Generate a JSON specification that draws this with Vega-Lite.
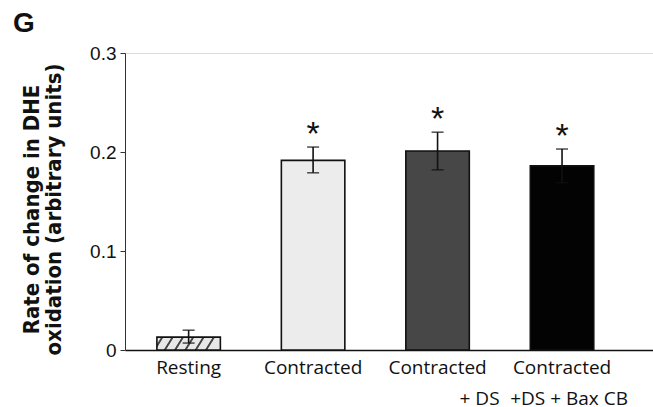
{
  "$schema": "https://vega.github.io/schema/vega-lite/v6.json",
  "autosize": {"type": "none"},
  "padding": {"left": 125, "top": 53, "right": 0, "bottom": 57},
  "width": 528,
  "height": 297,
  "background": "white",
  "title": {"text": "G", "anchor": "start", "frame": "group", "orient": "top", "fontSize": 28, "fontWeight": "bold", "font": "Liberation Sans", "color": "#111", "dx": -112, "dy": -6, "offset": 0},
  "data": {"values": [
    {"group": "Resting", "mean": 0.013, "lo": 0.007, "hi": 0.020, "sig": ""},
    {"group": "Contracted", "mean": 0.1915, "lo": 0.179, "hi": 0.205, "sig": "*"},
    {"group": "Contracted|\u2800\u2800\u2800\u2800\u2800\u2800+ DS", "mean": 0.201, "lo": 0.182, "hi": 0.220, "sig": "*"},
    {"group": "Contracted|\u2800+DS + Bax CB", "mean": 0.186, "lo": 0.169, "hi": 0.203, "sig": "*"}
  ]},
  "encoding": {
    "x": {"field": "group", "type": "nominal", "sort": null,
      "scale": {"paddingInner": 0.49, "paddingOuter": 0.366, "align": 0.35},
      "axis": {"title": null, "labelAngle": 0, "ticks": false, "domainColor": "#111", "domainWidth": 1.6,
        "labelExpr": "split(datum.label, '|')", "labelFont": "Open Sans", "labelFontSize": 19, "labelColor": "#111",
        "labelPadding": 8, "labelLineHeight": 31, "labelBaseline": "top"}}
  },
  "layer": [
    {"mark": {"type": "bar", "stroke": "#111", "strokeWidth": 1.6},
     "encoding": {
       "y": {"field": "mean", "type": "quantitative", "scale": {"domain": [0, 0.3], "nice": false},
         "axis": {"values": [0, 0.1, 0.2, 0.3], "grid": false, "labelExpr": "datum.value == 0 ? '0' : format(datum.value, '.1f')",
           "labelFont": "Liberation Sans", "labelFontSize": 19, "labelColor": "#111", "tickColor": "#333", "domainColor": "#333",
           "tickSize": 5, "labelPadding": 4,
           "title": ["Rate of change in DHE", "oxidation (arbitrary units)"], "titleFont": "'DejaVu Sans Condensed', 'Liberation Sans'", "titleFontSize": 22,
           "titleFontWeight": "bold", "titleColor": "#111", "titlePadding": 24, "titleLineHeight": 22, "titleY": 156}},
       "fill": {"condition": {"test": "datum.group === 'Resting'",
           "value": {"gradient": "linear", "x1": 0, "y1": 0, "x2": 1, "y2": 0.125, "stops": [
             {"offset": 0, "color": "#e8e8e8"},
             {"offset": 0.06, "color": "#e8e8e8"}, {"offset": 0.075, "color": "#444"}, {"offset": 0.095, "color": "#444"}, {"offset": 0.11, "color": "#e8e8e8"},
             {"offset": 0.22, "color": "#e8e8e8"}, {"offset": 0.235, "color": "#444"}, {"offset": 0.255, "color": "#444"}, {"offset": 0.27, "color": "#e8e8e8"},
             {"offset": 0.38, "color": "#e8e8e8"}, {"offset": 0.395, "color": "#444"}, {"offset": 0.415, "color": "#444"}, {"offset": 0.43, "color": "#e8e8e8"},
             {"offset": 0.54, "color": "#e8e8e8"}, {"offset": 0.555, "color": "#444"}, {"offset": 0.575, "color": "#444"}, {"offset": 0.59, "color": "#e8e8e8"},
             {"offset": 0.70, "color": "#e8e8e8"}, {"offset": 0.715, "color": "#444"}, {"offset": 0.735, "color": "#444"}, {"offset": 0.75, "color": "#e8e8e8"},
             {"offset": 0.86, "color": "#e8e8e8"}, {"offset": 0.875, "color": "#444"}, {"offset": 0.895, "color": "#444"}, {"offset": 0.91, "color": "#e8e8e8"},
             {"offset": 1, "color": "#e8e8e8"}]}},
         "field": "group", "type": "nominal", "legend": null,
         "scale": {"domain": ["Resting", "Contracted", "Contracted|\u2800\u2800\u2800\u2800\u2800\u2800+ DS", "Contracted|\u2800+DS + Bax CB"], "range": ["#e8e8e8", "#ececec", "#474747", "#030303"]}}
     }},
    {"mark": {"type": "rule", "color": "#111", "strokeWidth": 1.6},
     "encoding": {"y": {"field": "lo", "type": "quantitative"}, "y2": {"field": "hi"}}},
    {"mark": {"type": "tick", "color": "#111", "thickness": 1.6, "size": 12},
     "encoding": {"y": {"field": "hi", "type": "quantitative"}}},
    {"mark": {"type": "tick", "color": "#111", "thickness": 1.6, "size": 12},
     "encoding": {"y": {"field": "lo", "type": "quantitative"}}},
    {"mark": {"type": "text", "fontSize": 34, "font": "Liberation Sans", "color": "#111", "baseline": "middle", "dy": -12},
     "encoding": {"y": {"field": "hi", "type": "quantitative"}, "text": {"field": "sig"}}}
  ]
}
